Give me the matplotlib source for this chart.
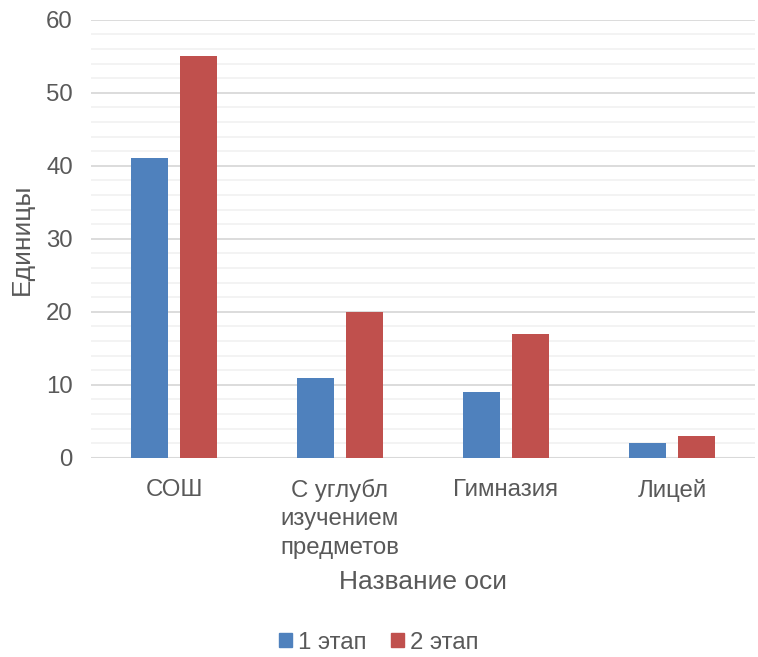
import matplotlib
matplotlib.use("Agg")
import matplotlib.pyplot as plt
import numpy as np
from matplotlib.ticker import MultipleLocator
from matplotlib.patches import Patch

categories = ["СОШ", "С углубл\nизучением\nпредметов", "Гимназия", "Лицей"]
stage1 = [41, 11, 9, 2]
stage2 = [55, 20, 17, 3]
series_names = ["1 этап", "2 этап"]

plt.rcParams['font.family'] = ['Liberation Sans', 'DejaVu Sans']
gray = '#595959'
blue = '#4F81BD'
red = '#C0504D'

fig = plt.figure(figsize=(7.58, 6.57), dpi=100)
ax = fig.add_axes([0.12, 0.303, 0.876, 0.667])

x = np.arange(len(categories))
w = 0.223
off = 0.145
ax.bar(x - off, stage1, width=w, color=blue, zorder=3)
ax.bar(x + off, stage2, width=w, color=red, zorder=3)

ax.set_xlim(-0.5, len(categories) - 0.5)
ax.set_ylim(0, 60)
ax.yaxis.set_major_locator(MultipleLocator(10))
ax.yaxis.set_minor_locator(MultipleLocator(2))
ax.grid(axis='y', which='major', color='#D9D9D9', linewidth=1.3, zorder=0)
ax.grid(axis='y', which='minor', color='#F2F2F2', linewidth=1.3, zorder=0)
for s in ax.spines.values():
    s.set_visible(False)
ax.axhline(0, color='#D9D9D9', linewidth=1.5, zorder=2)
ax.tick_params(axis='both', which='both', length=0, labelsize=17.3, colors=gray)
ax.tick_params(axis='y', pad=13)
ax.set_xticks(x)
ax.set_xticklabels(categories, linespacing=1.38, va='top')
ax.tick_params(axis='x', pad=15)

ax.set_ylabel("Единицы", fontsize=19, color=gray, labelpad=9)
ax.set_xlabel("Название оси", fontsize=19, color=gray, labelpad=8)

handles = [Patch(color=blue), Patch(color=red)]
fig.legend(handles, series_names, loc='center', bbox_to_anchor=(0.5, 0.022),
           ncol=2, frameon=False, fontsize=17.3, labelcolor=gray,
           handlelength=0.55, handleheight=0.55, handletextpad=0.25, columnspacing=1.0)

fig.savefig("out.png", dpi=100)
